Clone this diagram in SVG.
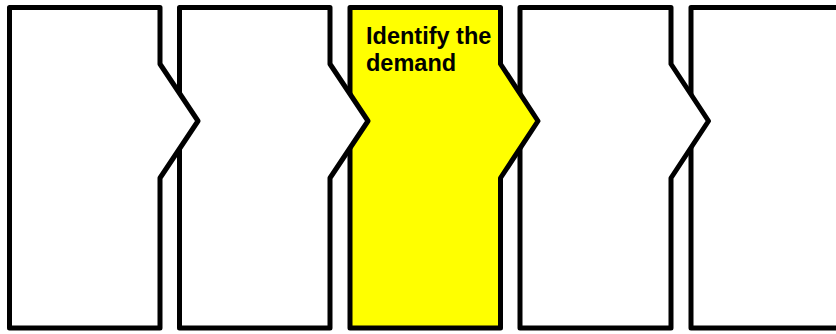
<svg xmlns="http://www.w3.org/2000/svg" width="836" height="334" viewBox="0 0 836 334">
<style>
.box{fill:#ffffff;stroke:#000000;stroke-width:5;stroke-linejoin:round}
.hl{fill:#ffff00}
.lbl{font-family:"Liberation Sans",Arial,sans-serif;font-weight:bold;font-size:23.5px;fill:#000000}
</style>
<rect width="836" height="334" fill="#ffffff"/>
<g id="step5">
<path class="box" d="M691,7.5 H870 V328 H691 Z"/>
</g>
<g id="step4">
<path class="box" d="M520,7.5 H671 V64 L708.5,121 L671,178 V328 H520 Z"/>
</g>
<g id="step3">
<path class="box hl" d="M350,7.5 H500.5 V64 L538,121 L500.5,178 V328 H350 Z"/>
<text class="lbl" x="366" y="44">Identify the</text>
<text class="lbl" x="366" y="71">demand</text>
</g>
<g id="step2">
<path class="box" d="M179.5,7.5 H330 V64 L368,121 L330,178 V328 H179.5 Z"/>
</g>
<g id="step1">
<path class="box" d="M9.5,7.5 H160 V64 L198,121 L160,178 V328 H9.5 Z"/>
</g>
<g id="connectors"></g>
</svg>
